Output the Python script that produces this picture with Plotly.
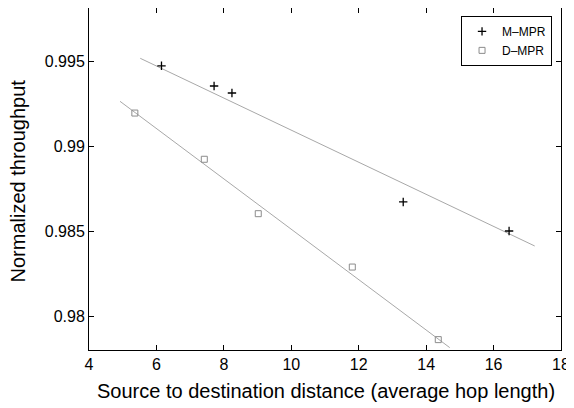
import plotly.graph_objects as go

# Data
m_x = [6.15, 7.71, 8.24, 13.32, 16.46]
m_y = [0.99472, 0.99353, 0.99312, 0.98671, 0.98500]
d_x = [5.36, 7.42, 9.02, 11.81, 14.36]
d_y = [0.99194, 0.98922, 0.98602, 0.98288, 0.97861]

# fitted trend lines (endpoints)
m_fit_x = [5.52, 17.22]
m_fit_y = [0.99516, 0.98412]
d_fit_x = [4.92, 14.70]
d_fit_y = [0.99263, 0.97814]

x_ticks = [4, 6, 8, 10, 12, 14, 16, 18]
y_ticks = [0.98, 0.985, 0.99, 0.995]
y_tick_labels = ["0.98", "0.985", "0.99", "0.995"]

x_title = "Source to destination distance (average hop length)"
y_title = "Normalized throughput"

fig = go.Figure()
fig.add_trace(go.Scatter(x=m_fit_x, y=m_fit_y, mode="lines",
                         line=dict(color="#a8a8a8", width=1), showlegend=False))
fig.add_trace(go.Scatter(x=d_fit_x, y=d_fit_y, mode="lines",
                         line=dict(color="#a8a8a8", width=1), showlegend=False))
fig.add_trace(go.Scatter(x=m_x, y=m_y, mode="markers", name="M\u2013MPR",
                         marker=dict(symbol="cross-thin", size=6, color="black",
                                     line=dict(color="black", width=1.3))))
fig.add_trace(go.Scatter(x=d_x, y=d_y, mode="markers", name="D\u2013MPR",
                         marker=dict(symbol="square-open", size=6, color="#8c8c8c",
                                     line=dict(color="#8c8c8c", width=1))))

axis_common = dict(showline=True, linecolor="black", linewidth=1, mirror="allticks",
                   ticks="inside", ticklen=5, tickcolor="black", showgrid=False,
                   zeroline=False, automargin=False,
                   tickfont=dict(size=16, color="black"))

# The page body has an 8px margin, so the figure is 8px smaller on each axis
fig.update_layout(
    width=566, height=400,
    margin=dict(l=81, r=13, t=0, b=58),
    paper_bgcolor="white", plot_bgcolor="white",
    font=dict(family="Liberation Sans, Arial, sans-serif", color="black"),
    xaxis=dict(range=[4, 18], tickvals=x_ticks, **axis_common),
    yaxis=dict(range=[0.978, 0.99812], tickvals=y_ticks, ticktext=y_tick_labels,
               **axis_common),
    legend=dict(x=0.981, y=0.977, xanchor="right", yanchor="top",
                bordercolor="black", borderwidth=1, bgcolor="white",
                font=dict(size=12), tracegroupgap=0, itemwidth=30),
    annotations=[
        dict(text=x_title, xref="paper", yref="paper", x=0.502, y=-0.12,
             xanchor="center", yanchor="middle", showarrow=False,
             font=dict(size=20)),
        dict(text=y_title, xref="paper", yref="paper", x=-0.1495, y=0.494,
             xanchor="center", yanchor="middle", showarrow=False, textangle=-90,
             font=dict(size=20)),
    ],
)

fig.write_html("out.html")
